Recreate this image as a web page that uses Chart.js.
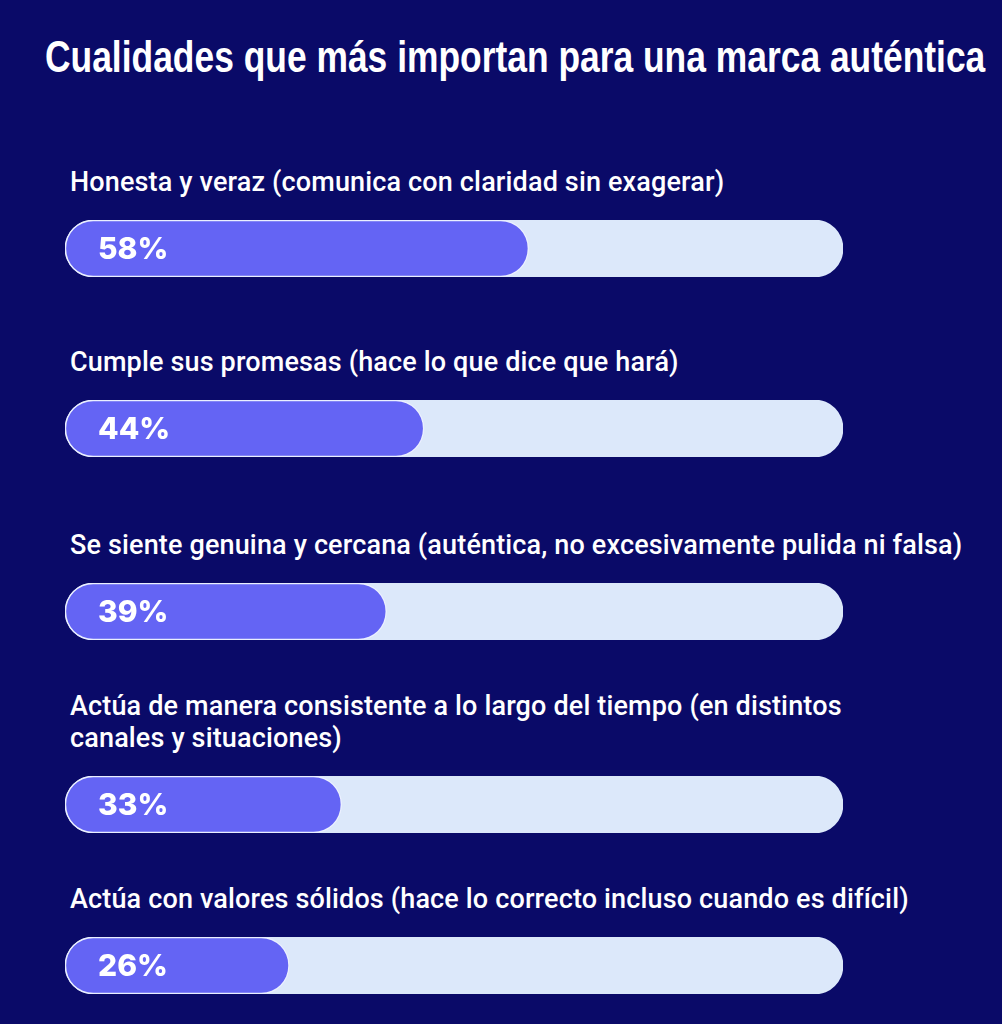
<!DOCTYPE html>
<html lang="es">
<head>
<meta charset="utf-8">
<script src="https://cdn.jsdelivr.net/npm/chart.js@4.4.1/dist/chart.umd.min.js"></script>
<style>
  html, body { margin: 0; padding: 0; }
  body {
    width: 1002px; height: 1024px; overflow: hidden; position: relative;
    background: #0a0a68;
    font-family: Roboto, "Liberation Sans", Arial, sans-serif;
  }
  #title {
    position: absolute; left: 45px; top: 29px; margin: 0;
    font-family: "Liberation Sans Narrow", "Liberation Sans", Arial, sans-serif;
    font-weight: 700; font-size: 45px; line-height: 56px;
    color: #fff; white-space: nowrap; transform-origin: left top;
  }
  .row { position: absolute; left: 0; width: 1002px; }
  .label {
    margin-left: 70px; white-space: nowrap;
    color: #fff; font-weight: 500; font-size: 27px; line-height: 32px;
    letter-spacing: 0.15px;
  }
  .bar { display: block; margin-left: 65px; margin-top: 22px; }
</style>
</head>
<body>
<h1 id="title">Cualidades que más importan para una marca auténtica</h1>
<div id="rows"></div>
<script>
// data (multi-line labels as arrays, Chart.js style)
const categories = [
  'Honesta y veraz (comunica con claridad sin exagerar)',
  'Cumple sus promesas (hace lo que dice que hará)',
  'Se siente genuina y cercana (auténtica, no excesivamente pulida ni falsa)',
  ['Actúa de manera consistente a lo largo del tiempo (en distintos', 'canales y situaciones)'],
  'Actúa con valores sólidos (hace lo correcto incluso cuando es difícil)'
];
const values = [58, 44, 39, 33, 26];
const totals = [100, 100, 100, 100, 100];

// layout (label line-box top of each row)
const rowTops = [166, 346, 529, 690, 883];

// squeeze the title to the condensed width of the original
const title = document.getElementById('title');
const targetWidth = 940;
title.style.transform = 'scaleX(' + (targetWidth / title.scrollWidth) + ')';

const rows = document.getElementById('rows');

const pctLabels = {
  id: 'pctLabels',
  afterDatasetsDraw(chart) {
    const ctx = chart.ctx;
    const bar = chart.getDatasetMeta(0).data[0];
    const v = chart.data.datasets[0].data[0];
    ctx.save();
    ctx.fillStyle = '#ffffff';
    ctx.font = '800 30px Inter, "Liberation Sans", sans-serif';
    ctx.textAlign = 'left';
    ctx.textBaseline = 'middle';
    ctx.fillText(v + '%', chart.chartArea.left + 33, bar.y + 1);
    ctx.restore();
  }
};

categories.forEach((cat, i) => {
  const row = document.createElement('div');
  row.className = 'row';
  row.style.top = rowTops[i] + 'px';
  const label = document.createElement('div');
  label.className = 'label';
  [].concat(cat).forEach((line, k) => {
    if (k > 0) label.appendChild(document.createElement('br'));
    label.appendChild(document.createTextNode(line));
  });
  const canvas = document.createElement('canvas');
  canvas.className = 'bar';
  canvas.width = 778;
  canvas.height = 57;
  row.appendChild(label);
  row.appendChild(canvas);
  rows.appendChild(row);

  new Chart(canvas, {
    type: 'bar',
    data: {
      labels: [cat],
      datasets: [{
        label: 'Porcentaje',
        data: [values[i]],
        base: -4,
        backgroundColor: '#6464f4',
        borderColor: 'rgba(235,240,255,0.9)',
        borderWidth: 1.5,
        borderRadius: 29,
        borderSkipped: false,
        order: 0
      }, {
        label: 'Total',
        data: [totals[i]],
        base: -4,
        backgroundColor: '#dce8fa',
        borderRadius: 29,
        borderSkipped: false,
        order: 1
      }]
    },
    options: {
      indexAxis: 'y',
      responsive: false,
      animation: false,
      layout: { padding: 0 },
      datasets: { bar: { grouped: false, barPercentage: 1, categoryPercentage: 1 } },
      plugins: { legend: { display: false }, tooltip: { enabled: false } },
      scales: {
        x: { min: -4, max: 100, display: false },
        y: { display: false }
      }
    },
    plugins: [pctLabels]
  });
});
</script>
</body>
</html>
